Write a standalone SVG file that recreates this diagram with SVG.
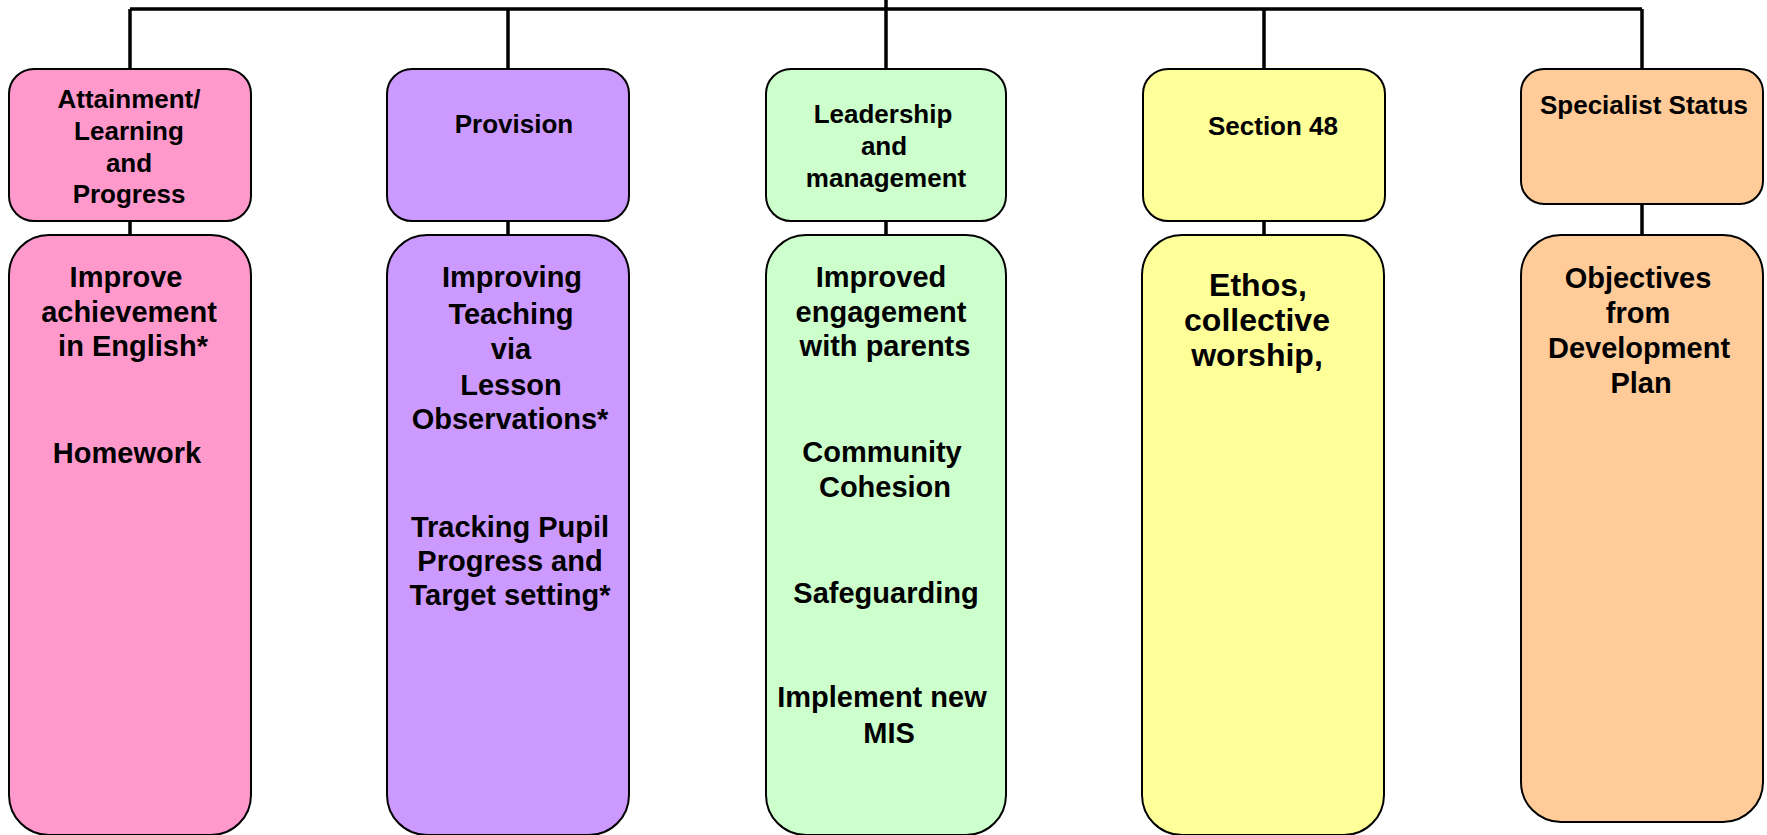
<svg xmlns="http://www.w3.org/2000/svg" width="1767" height="835" viewBox="0 0 1767 835">
<style>
.box{stroke:#000;stroke-width:2}
.line{stroke:#000;stroke-width:3.5;fill:none}
text{font-family:"Liberation Sans",Arial,Helvetica,sans-serif;font-weight:bold;fill:#000;text-anchor:middle}
.h{font-size:26px}
.b{font-size:29px}
.y{font-size:32px}
.pink{fill:#FF99CC}
.purple{fill:#CC99FF}
.green{fill:#CCFFCC}
.yellow{fill:#FFFF99}
.orange{fill:#FFCC99}
</style>
<rect width="1767" height="835" fill="#fff"/>
<g id="connectors">
<path class="line" d="M130,9 H1642 M886,0 V69 M130,9 V69 M508,9 V69 M1264,9 V69 M1642,9 V69"/>
<path class="line" d="M130,221 V235 M508,221 V235 M886,221 V235 M1264,221 V235 M1642,204 V235"/>
</g>
<g id="attainment">
<rect class="box pink" x="9" y="69" width="242" height="152" rx="25"/>
<text class="h" x="129"><tspan x="129" y="108">Attainment/</tspan><tspan x="129" y="140">Learning</tspan><tspan x="129" y="172">and</tspan><tspan x="129" y="203">Progress</tspan></text>
</g>
<g id="provision">
<rect class="box purple" x="387" y="69" width="242" height="152" rx="25"/>
<text class="h" x="514" y="133">Provision</text>
</g>
<g id="leadership">
<rect class="box green" x="766" y="69" width="240" height="152" rx="25"/>
<text class="h"><tspan x="883" y="123">Leadership</tspan><tspan x="884" y="155">and</tspan><tspan x="886" y="187">management</tspan></text>
</g>
<g id="section48">
<rect class="box yellow" x="1143" y="69" width="242" height="152" rx="25"/>
<text class="h" x="1273" y="135">Section 48</text>
</g>
<g id="specialist">
<rect class="box orange" x="1521" y="69" width="242" height="135" rx="23"/>
<text class="h" x="1644" y="114">Specialist Status</text>
</g>
<g id="attainment-items">
<rect class="box pink" x="9" y="235" width="242" height="600" rx="40"/>
<text class="b"><tspan x="126" y="287">Improve</tspan><tspan x="129" y="322">achievement</tspan><tspan x="133" y="356">in English*</tspan><tspan x="127" y="463">Homework</tspan></text>
</g>
<g id="provision-items">
<rect class="box purple" x="387" y="235" width="242" height="600" rx="40"/>
<text class="b"><tspan x="512" y="287">Improving</tspan><tspan x="511" y="323.5">Teaching</tspan><tspan x="511" y="359">via</tspan><tspan x="511" y="394.5">Lesson</tspan><tspan x="510" y="428.5">Observations*</tspan><tspan x="510" y="537">Tracking Pupil</tspan><tspan x="510" y="571">Progress and</tspan><tspan x="510" y="605">Target setting*</tspan></text>
</g>
<g id="leadership-items">
<rect class="box green" x="766" y="235" width="240" height="600" rx="40"/>
<text class="b"><tspan x="881" y="287">Improved</tspan><tspan x="881" y="322">engagement</tspan><tspan x="885" y="356">with parents</tspan><tspan x="882" y="462">Community</tspan><tspan x="885" y="497">Cohesion</tspan><tspan x="886" y="603">Safeguarding</tspan><tspan x="882" y="707">Implement new</tspan><tspan x="889" y="743">MIS</tspan></text>
</g>
<g id="section48-items">
<rect class="box yellow" x="1142" y="235" width="242" height="600" rx="40"/>
<text class="y"><tspan x="1258" y="296">Ethos,</tspan><tspan x="1257" y="330.5">collective</tspan><tspan x="1257" y="366">worship,</tspan></text>
</g>
<g id="specialist-items">
<rect class="box orange" x="1521" y="235" width="242" height="587" rx="40"/>
<text class="b"><tspan x="1638" y="288">Objectives</tspan><tspan x="1638" y="323">from</tspan><tspan x="1639" y="358">Development</tspan><tspan x="1641" y="393">Plan</tspan></text>
</g>
</svg>
